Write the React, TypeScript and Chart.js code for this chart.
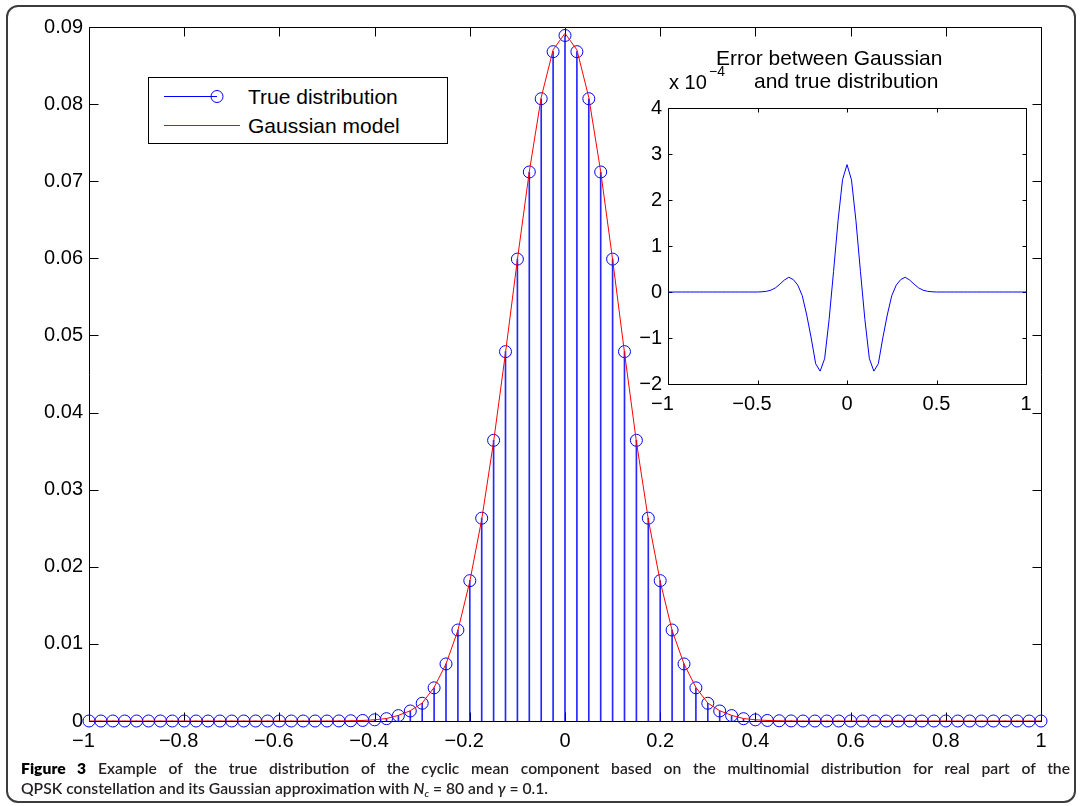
import React, { useEffect, useLayoutEffect, useRef } from 'react';
import { Chart, registerables } from 'chart.js';

Chart.register(...registerables);

// ---------- data ----------
const xValues = [
  -1, -0.975, -0.95, -0.925, -0.9, -0.875, -0.85, -0.825, -0.8, -0.775,
  -0.75, -0.725, -0.7, -0.675, -0.65, -0.625, -0.6, -0.575, -0.55, -0.525,
  -0.5, -0.475, -0.45, -0.425, -0.4, -0.375, -0.35, -0.325, -0.3, -0.275,
  -0.25, -0.225, -0.2, -0.175, -0.15, -0.125, -0.1, -0.075, -0.05, -0.025,
  0,
  0.025, 0.05, 0.075, 0.1, 0.125, 0.15, 0.175, 0.2, 0.225, 0.25,
  0.275, 0.3, 0.325, 0.35, 0.375, 0.4, 0.425, 0.45, 0.475, 0.5,
  0.525, 0.55, 0.575, 0.6, 0.625, 0.65, 0.675, 0.7, 0.725, 0.75,
  0.775, 0.8, 0.825, 0.85, 0.875, 0.9, 0.925, 0.95, 0.975, 1,
];

const trueValues = [
  0, 0, 0, 0, 0, 0, 0, 0, 0, 0,
  0, 0, 0, 0, 0, 0, 0, 0, 0, 0,
  0, 0.00001, 0.00003, 0.00007, 0.00015, 0.0003, 0.0007, 0.0013, 0.0023, 0.0043,
  0.0074, 0.0118, 0.0182, 0.0263, 0.0364, 0.0479, 0.0599, 0.0712, 0.0807, 0.0868,
  0.0889,
  0.0868, 0.0807, 0.0712, 0.0599, 0.0479, 0.0364, 0.0263, 0.0182, 0.0118, 0.0074,
  0.0043, 0.0023, 0.0013, 0.0007, 0.0003, 0.00015, 0.00007, 0.00003, 0.00001, 0,
  0, 0, 0, 0, 0, 0, 0, 0, 0, 0,
  0, 0, 0, 0, 0, 0, 0, 0, 0, 0,
];

const gaussianValues = [
  0, 0, 0, 0, 0, 0, 0, 0, 0, 0,
  0, 0, 0, 0, 0, 0, 0, 0, 0, 0,
  0, 0.00001, 0.00003, 0.00007, 0.00016, 0.00032, 0.00073, 0.00133, 0.00233, 0.00435,
  0.00739, 0.01175, 0.0181, 0.02614, 0.03623, 0.04776, 0.05984, 0.07125, 0.08086, 0.08704,
  0.08918,
  0.08704, 0.08086, 0.07125, 0.05984, 0.04776, 0.03623, 0.02614, 0.0181, 0.01175, 0.00739,
  0.00435, 0.00233, 0.00133, 0.00073, 0.00032, 0.00016, 0.00007, 0.00003, 0.00001, 0,
  0, 0, 0, 0, 0, 0, 0, 0, 0, 0,
  0, 0, 0, 0, 0, 0, 0, 0, 0, 0,
];

// error (Gaussian - true) in units of 1e-4
const errorE4Values = [
  0, 0, 0, 0, 0, 0, 0, 0, 0, 0,
  0, 0, 0, 0, 0, 0, 0, 0, 0, 0,
  0, 0.005, 0.015, 0.04, 0.09, 0.17, 0.26, 0.32, 0.27, 0.15,
  -0.08, -0.5, -1.0, -1.56, -1.72, -1.45, -0.6, 0.45, 1.55, 2.44,
  2.77,
  2.44, 1.55, 0.45, -0.6, -1.45, -1.72, -1.56, -1.0, -0.5, -0.08,
  0.15, 0.27, 0.32, 0.26, 0.17, 0.09, 0.04, 0.015, 0.005, 0,
  0, 0, 0, 0, 0, 0, 0, 0, 0, 0,
  0, 0, 0, 0, 0, 0, 0, 0, 0, 0,
];

const mainXTickLabels = ['\u22121  ', '\u22120.8  ', '\u22120.6  ', '\u22120.4  ', '\u22120.2  ', '0', '0.2', '0.4', '0.6', '0.8', '1'];
const mainYTickLabels = ['0', '0.01', '0.02', '0.03', '0.04', '0.05', '0.06', '0.07', '0.08', '0.09'];
const insetXTickLabels = ['\u22121  ', '\u22120.5  ', '0', '0.5', '1'];
const insetYTickLabels = ['\u22122', '\u22121', '0', '1', '2', '3', '4'];

const legendLabels = ['True distribution', 'Gaussian model'];
const insetTitle = ['Error between Gaussian', 'and true distribution'];
const captionLine1 = 'Example of the true distribution of the cyclic mean component based on the multinomial distribution for real part of the';

const FONT = "'Liberation Sans', Arial, Helvetica, sans-serif";
const BLUE = '#0000ff';
const RED = '#ff0000';

function axesBoxPlugin(tickLen: number) {
  return {
    id: 'axesBox',
    beforeDatasetsDraw(chart: any) {
      const { ctx, chartArea: a, scales } = chart;
      const L = Math.round(a.left) + 0.5;
      const R = Math.round(a.right) + 0.5;
      const T = Math.round(a.top) + 0.5;
      const B = Math.round(a.bottom) + 0.5;
      ctx.save();
      ctx.strokeStyle = '#000';
      ctx.lineWidth = 1;
      ctx.beginPath();
      ctx.rect(L, T, R - L, B - T);
      const xs = scales.x;
      xs.ticks.forEach((_t: any, i: number) => {
        const p = Math.round(xs.getPixelForTick(i)) + 0.5;
        ctx.moveTo(p, B);
        ctx.lineTo(p, B - tickLen);
        ctx.moveTo(p, T);
        ctx.lineTo(p, T + tickLen);
      });
      const ys = scales.y;
      ys.ticks.forEach((_t: any, i: number) => {
        const p = Math.round(ys.getPixelForTick(i)) + 0.5;
        ctx.moveTo(L, p);
        ctx.lineTo(L + tickLen, p);
        ctx.moveTo(R, p);
        ctx.lineTo(R - tickLen, p);
      });
      ctx.stroke();
      ctx.restore();
    },
  };
}

export default function App() {
  const mainRef = useRef<HTMLCanvasElement>(null);
  const insetRef = useRef<HTMLCanvasElement>(null);
  const cap1 = useRef<HTMLDivElement>(null);
  const cap2 = useRef<HTMLDivElement>(null);

  useEffect(() => {
    const tickFont = { family: FONT, size: 20 };
    const main = new Chart(mainRef.current as HTMLCanvasElement, {
      type: 'line',
      data: {
        datasets: [
          {
            type: 'line',
            label: legendLabels[1],
            data: xValues.map((x, i) => ({ x, y: gaussianValues[i] })),
            borderColor: RED,
            borderWidth: 1,
            pointRadius: 0,
            tension: 0,
            fill: false,
            order: 0,
          },
          {
            type: 'line',
            label: legendLabels[0],
            data: xValues.map((x, i) => ({ x, y: trueValues[i] })),
            showLine: false,
            pointRadius: 6,
            pointBorderWidth: 1,
            pointBorderColor: BLUE,
            pointBackgroundColor: 'rgba(0,0,0,0)',
            clip: false,
            order: 1,
          },
          {
            type: 'bar',
            label: 'stems',
            data: xValues.map((x, i) => ({ x, y: trueValues[i] })),
            backgroundColor: 'rgba(0,0,255,0.85)',
            borderWidth: 0,
            barThickness: 1,
            order: 2,
          },
        ],
      } as any,
      options: {
        animation: false,
        responsive: false,
        maintainAspectRatio: false,
        events: [],
        layout: { padding: { left: 29, right: 41, top: 27, bottom: 45 } },
        plugins: { legend: { display: false }, tooltip: { enabled: false }, title: { display: false } },
        scales: {
          x: {
            type: 'linear',
            min: -1,
            max: 1,
            offset: false,
            grid: { display: false, drawTicks: false, offset: false },
            border: { display: false },
            ticks: {
              stepSize: 0.2,
              padding: 8,
              color: '#000',
              font: tickFont,
              maxRotation: 0,
              autoSkip: false,
              callback: (_v: any, i: number) => mainXTickLabels[i],
            },
            afterFit: (s: any) => { s.height = 40; },
          },
          y: {
            type: 'linear',
            min: 0,
            max: 0.09,
            grid: { display: false, drawTicks: false },
            border: { display: false },
            ticks: {
              stepSize: 0.01,
              padding: 6,
              color: '#000',
              font: tickFont,
              autoSkip: false,
              callback: (_v: any, i: number) => mainYTickLabels[i],
            },
            afterFit: (s: any) => { s.width = 60; },
          },
        },
      } as any,
      plugins: [axesBoxPlugin(9)],
    });

    const inset = new Chart(insetRef.current as HTMLCanvasElement, {
      type: 'line',
      data: {
        datasets: [
          {
            label: 'error',
            data: xValues.map((x, i) => ({ x, y: errorE4Values[i] })),
            borderColor: BLUE,
            borderWidth: 1,
            pointRadius: 0,
            tension: 0,
            fill: false,
          },
        ],
      },
      options: {
        animation: false,
        responsive: false,
        maintainAspectRatio: false,
        events: [],
        layout: { padding: { left: 28, right: 44, top: 13, bottom: 16 } },
        plugins: { legend: { display: false }, tooltip: { enabled: false } },
        scales: {
          x: {
            type: 'linear',
            min: -1,
            max: 1,
            grid: { display: false, drawTicks: false },
            border: { display: false },
            ticks: {
              stepSize: 0.5,
              padding: 8,
              color: '#000',
              font: tickFont,
              maxRotation: 0,
              autoSkip: false,
              callback: (_v: any, i: number) => insetXTickLabels[i],
            },
            afterFit: (s: any) => { s.height = 30; },
          },
          y: {
            type: 'linear',
            min: -2,
            max: 4,
            grid: { display: false, drawTicks: false },
            border: { display: false },
            ticks: {
              stepSize: 1,
              padding: 6,
              color: '#000',
              font: tickFont,
              autoSkip: false,
              callback: (_v: any, i: number) => insetYTickLabels[i],
            },
            afterFit: (s: any) => { s.width = 40; },
          },
        },
      } as any,
      plugins: [axesBoxPlugin(4)],
    });

    return () => {
      main.destroy();
      inset.destroy();
    };
  }, []);

  useLayoutEffect(() => {
    const fit = () => {
      const a = cap1.current;
      const b = cap2.current;
      if (!a || !b) return;
      a.style.transform = 'none';
      b.style.transform = 'none';
      a.style.wordSpacing = '0px';
      const w2 = b.getBoundingClientRect().width;
      const w1 = a.getBoundingClientRect().width;
      if (w2 > 0 && w1 > 0) {
        const s = 527 / w2;
        const gaps = (a.textContent || '').trim().split(/\s+/).length - 1;
        const extra = (1049 / s - w1) / gaps;
        a.style.wordSpacing = `${extra}px`;
        a.style.transform = `scaleX(${s})`;
        b.style.transform = `scaleX(${s})`;
      }
    };
    fit();
    const fonts = (document as any).fonts;
    if (fonts && fonts.ready) fonts.ready.then(fit);
  }, []);

  const abs = (left: number, top: number, extra: any = {}) => ({
    position: 'absolute' as const,
    left,
    top,
    whiteSpace: 'nowrap' as const,
    ...extra,
  });

  const textStyle = { fontFamily: FONT, color: '#000' };
  const capStyle = {
    fontFamily: "Lato, 'Open Sans', sans-serif",
    fontSize: 15.5,
    lineHeight: '20px',
    fontWeight: 600,
    color: '#231f20',
    transformOrigin: '0 0',
  };

  return (
    <div style={{ position: 'absolute', left: 0, top: 0, width: 1082, height: 806, background: '#fff', overflow: 'hidden' }}>
      <div
        style={{
          position: 'absolute',
          left: 6,
          top: 5,
          width: 1070,
          height: 798,
          border: '2px solid #3c3c3c',
          borderRadius: 12,
          boxSizing: 'border-box',
        }}
      />
      <canvas ref={mainRef} width={1082} height={806} style={{ position: 'absolute', left: 0, top: 0, width: 1082, height: 806 }} />

      {/* legend */}
      <div style={{ position: 'absolute', left: 148, top: 77, width: 300, height: 67, border: '1px solid #000', background: '#fff', boxSizing: 'border-box' }} />
      <svg width={300} height={67} style={{ position: 'absolute', left: 148, top: 77 }}>
        <line x1={16} y1={19.5} x2={69} y2={19.5} stroke={BLUE} strokeWidth={1} />
        <circle cx={69} cy={19.5} r={6} stroke={BLUE} strokeWidth={1} fill="none" />
        <line x1={16} y1={48.5} x2={92} y2={48.5} stroke={RED} strokeWidth={1} />
      </svg>
      <div style={abs(248, 83.5, { ...textStyle, fontSize: 21, lineHeight: '25px' })}>{legendLabels[0]}</div>
      <div style={abs(248, 112.9, { ...textStyle, fontSize: 21, lineHeight: '25px' })}>{legendLabels[1]}</div>

      {/* inset */}
      <canvas ref={insetRef} width={470} height={340} style={{ position: 'absolute', left: 600, top: 90, width: 470, height: 340 }} />
      <div style={abs(716, 45.2, { ...textStyle, fontSize: 21, lineHeight: '25px' })}>{insetTitle[0]}</div>
      <div style={abs(754, 67.5, { ...textStyle, fontSize: 21, lineHeight: '25px' })}>{insetTitle[1]}</div>
      <div style={abs(669, 70, { ...textStyle, fontSize: 20, lineHeight: '24px' })}>x 10</div>
      <div style={abs(709, 62.6, { ...textStyle, fontSize: 14, lineHeight: '17px' })}>{'\u22124'}</div>

      {/* caption */}
      <div ref={cap1} style={abs(21, 757.5, capStyle)}>
        <span style={{ fontWeight: 800, color: '#000' }}>Figure 3</span> {captionLine1}
      </div>
      <div ref={cap2} style={abs(21, 778, capStyle)}>
        QPSK constellation and its Gaussian approximation with <i>N</i>
        <sub style={{ fontSize: 10, verticalAlign: '-3px' }}><i>c</i></sub> = 80 and <i>{'\u03b3'}</i> = 0.1.
      </div>
    </div>
  );
}
